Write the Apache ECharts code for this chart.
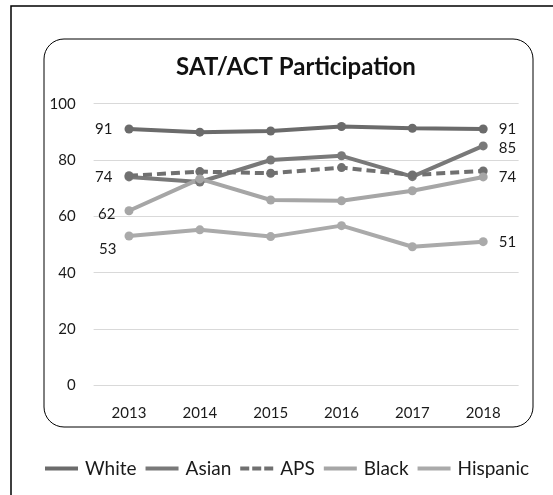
<!DOCTYPE html>
<html>
<head>
<meta charset="utf-8">
<script src="https://cdn.jsdelivr.net/npm/echarts@6/dist/echarts.min.js"></script>
<style>
  html, body { margin: 0; padding: 0; background: #ffffff; }
  #chart { width: 553px; height: 495px; }
</style>
</head>
<body>
<div id="chart"></div>
<script>
// Participation rates (%) by year and student group
const years = ['2013', '2014', '2015', '2016', '2017', '2018'];
const seriesNames = ['White', 'Asian', 'APS', 'Black', 'Hispanic'];
const white    = [91, 89.9, 90.3, 91.9, 91.3, 91];
const asian    = [74, 72.2, 80.0, 81.5, 74.1, 85];
const aps      = [74.4, 75.9, 75.3, 77.3, 74.7, 76.1];
const black    = [62, 73.3, 65.8, 65.5, 69.1, 74];
const hispanic = [53, 55.2, 52.8, 56.7, 49.2, 51];
const yTicks   = [0, 20, 40, 60, 80, 100];

const FONT = 'Lato';

// end-point label placement for each labelled series: [first, last]
const endLabels = {
  White:    [{ position: 'left', distance: 12 }, { position: 'right', distance: 11 }],
  Asian:    [{ position: 'left', distance: 12 }, { position: 'right', distance: 11, offset: [0, 2] }],
  Black:    [{ position: 'left', distance: 9, offset: [0, 3] }, { position: 'right', distance: 11 }],
  Hispanic: [{ position: 'left', distance: 8, offset: [0, 13] }, { position: 'right', distance: 11 }]
};

function buildData(name, values) {
  const cfg = endLabels[name];
  return values.map(function (v, i) {
    const item = { value: v };
    if (cfg && (i === 0 || i === values.length - 1)) {
      const c = cfg[i === 0 ? 0 : 1];
      item.label = Object.assign({
        show: true,
        color: '#1a1a1a',
        fontFamily: FONT,
        fontSize: 15,
        formatter: function (p) { return Math.round(p.value); }
      }, c);
    }
    return item;
  });
}

const colors = { White: '#6b6b6b', Asian: '#797979', APS: '#707070', Black: '#a6a6a6', Hispanic: '#aaaaaa' };
const values = { White: white, Asian: asian, APS: aps, Black: black, Hispanic: hispanic };

const solidIcon = 'path://M0,0H33V4H0Z';
const dashIcon = 'path://M0,0H9V4H0Z M12,0H21V4H12Z M24,0H33V4H24Z';

const chart = echarts.init(document.getElementById('chart'), null, { renderer: 'canvas' });

chart.setOption({
  backgroundColor: '#ffffff',
  animation: false,
  title: {
    text: 'SAT/ACT Participation',
    left: 291,
    textAlign: 'center',
    top: 50,
    textStyle: { fontFamily: FONT, fontWeight: 'bold', fontSize: 24, color: '#111111' }
  },
  graphic: [
    {
      type: 'rect',
      shape: { x: 11, y: 6, width: 600, height: 600 },
      style: { fill: 'none', stroke: '#000000', lineWidth: 1.5 },
      silent: true, z: -10
    },
    {
      type: 'rect',
      shape: { x: 44, y: 39, width: 489, height: 388, r: 20 },
      style: { fill: 'none', stroke: '#000000', lineWidth: 1 },
      silent: true, z: -10
    }
  ],
  legend: {
    bottom: 12,
    left: 40,
    itemWidth: 33,
    itemHeight: 4,
    itemGap: 9,
    textStyle: { fontFamily: FONT, fontSize: 19, color: '#1a1a1a', padding: [0, 0, 0, 2] },
    data: seriesNames.map(function (n) {
      return { name: n, icon: n === 'APS' ? dashIcon : solidIcon };
    })
  },
  grid: { left: 93.6, right: 34.4, top: 103.7, bottom: 109.7 },
  xAxis: {
    type: 'category',
    data: years,
    boundaryGap: true,
    axisLine: { show: false },
    axisTick: { show: false },
    axisLabel: { fontFamily: FONT, fontSize: 15, color: '#1a1a1a', margin: 20 }
  },
  yAxis: {
    type: 'value',
    min: yTicks[0],
    max: yTicks[yTicks.length - 1],
    interval: yTicks[1] - yTicks[0],
    axisLine: { show: false },
    axisTick: { show: false },
    splitLine: { lineStyle: { color: '#d9d9d9', width: 1 } },
    axisLabel: { fontFamily: FONT, fontSize: 15, color: '#1a1a1a', margin: 18 }
  },
  series: seriesNames.map(function (n) {
    return {
      name: n,
      type: 'line',
      data: buildData(n, values[n]),
      color: colors[n],
      symbol: 'circle',
      symbolSize: 9,
      lineStyle: { width: 4, color: colors[n], type: n === 'APS' ? [9, 5] : 'solid' },
      itemStyle: { color: colors[n] }
    };
  })
});
</script>
</body>
</html>
